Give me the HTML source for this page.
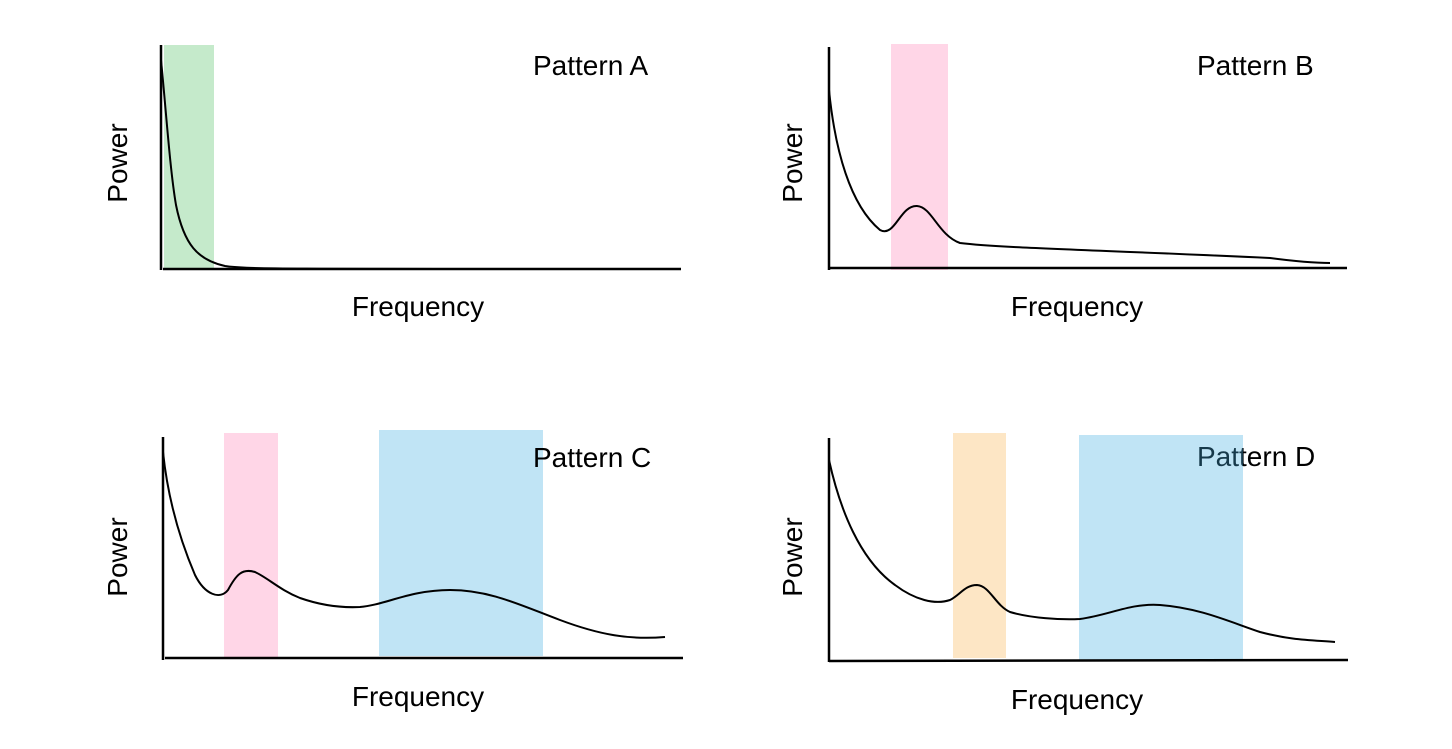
<!DOCTYPE html>
<html><head><meta charset="utf-8"><style>
html,body{margin:0;padding:0;background:#fff;}
svg{display:block;}
text{font-family:"Liberation Sans",Arial,sans-serif;font-size:28px;fill:#000;}
</style></head><body>
<svg width="1452" height="749" viewBox="0 0 1452 749" xmlns="http://www.w3.org/2000/svg">
<defs>
<clipPath id="inD"><rect x="1079" y="435" width="164" height="225"/></clipPath>
<clipPath id="outD"><rect x="1243" y="400" width="200" height="100"/></clipPath>
</defs>
<!-- Panel A -->
<rect x="164" y="45" width="50" height="225" fill="#c5eacb"/>
<text x="533" y="75">Pattern A</text>
<path d="M161,45 L161,270 M163,269 L681,269" stroke="#000" stroke-width="2.5" fill="none"/>
<path d="M161,60 C166,110 170,170 176,205 C184,245 198,260 225,266 C245,269 270,269 680,269" stroke="#000" stroke-width="2" fill="none"/>
<text transform="translate(127,163) rotate(-90)" text-anchor="middle">Power</text>
<text x="418" y="316" text-anchor="middle">Frequency</text>
<!-- Panel B -->
<rect x="891" y="44" width="57" height="226" fill="#ffd6e7"/>
<text x="1197" y="75">Pattern B</text>
<path d="M829,47 L829,270 M829,268 L1347,268" stroke="#000" stroke-width="2.5" fill="none"/>
<path d="M829,90 C835,150 850,205 880,230 C895,238 900,205 917,206 C932,207 938,235 960,243 C1000,248 1100,250 1270,258 C1300,262 1320,263 1330,263" stroke="#000" stroke-width="2" fill="none"/>
<text transform="translate(802,163) rotate(-90)" text-anchor="middle">Power</text>
<text x="1077" y="316" text-anchor="middle">Frequency</text>
<!-- Panel C -->
<rect x="224" y="433" width="54" height="225" fill="#ffd6e7"/>
<rect x="379" y="430" width="164" height="226" fill="#c0e4f5"/>
<text x="533" y="467">Pattern C</text>
<path d="M163,437 L163,660 M165,658 L683,658" stroke="#000" stroke-width="2.5" fill="none"/>
<path d="M163,452 C168,500 180,540 195,575 C205,595 220,600 228,590 C236,575 242,568 255,572 C268,578 280,590 300,598 C320,605 340,608 360,607 C385,605 410,590 450,590 C490,590 520,605 560,620 C600,635 630,640 665,637" stroke="#000" stroke-width="2" fill="none"/>
<text transform="translate(127,557) rotate(-90)" text-anchor="middle">Power</text>
<text x="418" y="706" text-anchor="middle">Frequency</text>
<!-- Panel D -->
<rect x="953" y="433" width="53" height="225" fill="#fde6c5"/>
<rect x="1079" y="435" width="164" height="225" fill="#c0e4f5"/>
<text x="1197" y="466" clip-path="url(#inD)" style="fill:#16394a">Pattern D</text>
<text x="1197" y="466" clip-path="url(#outD)">Pattern D</text>
<path d="M829,438 L829,662 M829,661 L1348,660" stroke="#000" stroke-width="2.5" fill="none"/>
<path d="M829,460 C840,510 860,560 895,585 C915,600 935,605 950,600 C960,595 965,585 977,585 C990,586 995,605 1010,612 C1030,618 1060,620 1080,619 C1110,615 1130,603 1160,605 C1200,608 1230,622 1260,632 C1290,640 1310,640 1335,642" stroke="#000" stroke-width="2" fill="none"/>
<text transform="translate(802,557) rotate(-90)" text-anchor="middle">Power</text>
<text x="1077" y="709" text-anchor="middle">Frequency</text>
</svg>
</body></html>
